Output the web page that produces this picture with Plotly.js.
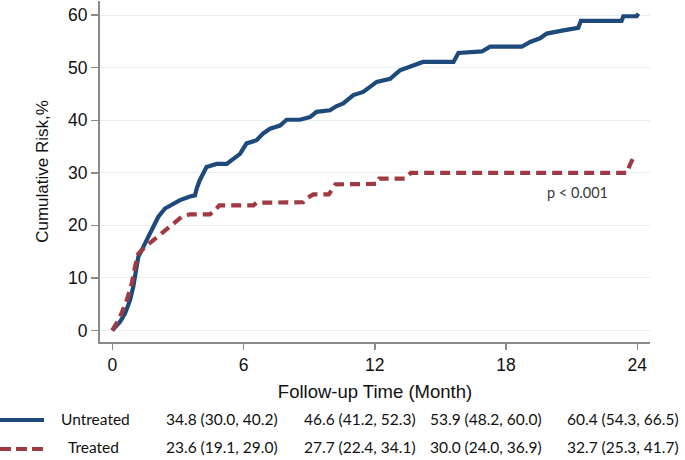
<!DOCTYPE html>
<html>
<head>
<meta charset="utf-8">
<script src="https://cdn.plot.ly/plotly-3.0.1.min.js"></script>
<style>
  html, body { margin: 0; padding: 0; background: #fff; }
  #chart { width: 685px; height: 460px; }
</style>
</head>
<body>
<div id="chart"></div>
<script>
// cumulative risk curves (corner points of the steps)
var untreatedTime = [0, 0.35, 0.58, 0.81, 0.96, 1.04, 1.19, 1.42, 1.65, 1.87, 2.1, 2.41, 2.87, 3.1, 3.55, 3.78, 3.86, 4.0, 4.31, 4.77, 5.23, 5.53, 5.84, 6.14, 6.6, 6.9, 7.21, 7.67, 7.97, 8.58, 9.04, 9.34, 9.95, 10.26, 10.56, 11.02, 11.47, 12.09, 12.7, 13.15, 13.6, 14.2, 15.6, 15.82, 16.9, 17.27, 18.72, 19.1, 19.55, 19.86, 20.62, 21.07, 21.3, 21.42, 23.28, 23.36, 23.97, 24.05];
var untreatedRisk = [0, 1.6, 3.2, 5.7, 8.3, 10.8, 14, 15.9, 17.8, 19.7, 21.6, 23.2, 24.4, 24.8, 25.5, 25.7, 27, 28.6, 31.1, 31.7, 31.7, 32.7, 33.6, 35.6, 36.2, 37.5, 38.4, 39, 40.1, 40.1, 40.6, 41.6, 41.9, 42.7, 43.2, 44.8, 45.4, 47.3, 47.9, 49.5, 50.2, 51.1, 51.1, 52.8, 53.1, 54, 54, 54.9, 55.6, 56.5, 57.1, 57.5, 57.6, 58.9, 58.9, 59.8, 59.8, 60.3];

var treatedTime = [0, 0.35, 0.66, 0.89, 1.04, 1.19, 1.5, 1.95, 2.33, 2.79, 3.17, 3.55, 4.47, 4.69, 4.9, 6.45, 6.6, 8.73, 8.9, 9.19, 9.9, 10.2, 12.09, 12.2, 13.4, 13.65, 23.55, 23.65, 23.8];
var treatedRisk = [0, 2.5, 5.7, 8.9, 12.1, 14.6, 15.9, 17.5, 18.7, 20.3, 21.6, 22.1, 22.1, 22.9, 23.8, 23.8, 24.3, 24.4, 25.2, 25.9, 25.9, 27.8, 27.9, 28.9, 28.9, 30.0, 30.0, 31.4, 32.7];

// table under the plot
var groups = ["Untreated", "Treated"];
var untreatedCI = ["34.8 (30.0, 40.2)", "46.6 (41.2, 52.3)", "53.9 (48.2, 60.0)", "60.4 (54.3, 66.5)"];
var treatedCI = ["23.6 (19.1, 29.0)", "27.7 (22.4, 34.1)", "30.0 (24.0, 36.9)", "32.7 (25.3, 41.7)"];
var xTicks = [0, 6, 12, 18, 24];
var pText = "p < 0.001";

var blue = "#1d4a7a";
var red = "#a03a42";

// plot area in px: x 100..650, y 1..342
var L = 100, W = 550, T = 1, H = 341;
function px(x) { return (x - L) / W; }
function py(y) { return (T + H - y) / H; }

var traces = [
  {x: untreatedTime, y: untreatedRisk, mode: "lines", line: {color: blue, width: 4.2}, hoverinfo: "skip"},
  {x: treatedTime, y: treatedRisk, mode: "lines", line: {color: red, width: 4.2, dash: "10px,6px"}, hoverinfo: "skip"}
];

var tblFont = {family: "Lato, sans-serif", size: 15.5, color: "#111"};
var colX = [222, 360, 486, 623];
var rowY = [419, 447];
var anns = [];
groups.forEach(function (g, i) {
  anns.push({xref: "paper", yref: "paper", x: px(i == 0 ? 95 : 93), y: py(rowY[i]), text: g,
    showarrow: false, xanchor: "center", yanchor: "middle", font: tblFont});
});
[untreatedCI, treatedCI].forEach(function (row, i) {
  row.forEach(function (t, j) {
    anns.push({xref: "paper", yref: "paper", x: px(colX[j]), y: py(rowY[i]), text: t,
      showarrow: false, xanchor: "center", yanchor: "middle", font: tblFont});
  });
});
anns.push({xref: "paper", yref: "paper", x: px(577), y: py(193), text: pText, showarrow: false,
  xanchor: "center", yanchor: "middle", font: {family: "Lato, sans-serif", size: 14.5, color: "#3a3a3a"}});

var shapes = [
  {type: "line", xref: "paper", yref: "paper", x0: px(0), x1: px(44), y0: py(420), y1: py(420),
    line: {color: blue, width: 4}},
  {type: "line", xref: "paper", yref: "paper", x0: px(0), x1: px(44), y0: py(449), y1: py(449),
    line: {color: red, width: 4, dash: "11px,5px"}}
];

var layout = {
  width: 685, height: 460,
  margin: {l: 100, r: 35, t: 1, b: 118},
  paper_bgcolor: "#fff", plot_bgcolor: "#fff",
  showlegend: false,
  font: {family: "Liberation Sans, Arial, sans-serif", size: 17, color: "#111"},
  xaxis: {
    range: [-0.56, 24.58], tickvals: xTicks, ticktext: xTicks.map(String),
    showline: true, linecolor: "#8a8a8a", linewidth: 2, mirror: false,
    ticks: "outside", ticklen: 6, tickwidth: 1.5, tickcolor: "#8a8a8a",
    showgrid: false, zeroline: false,
    tickfont: {size: 17.5},
    title: {text: "Follow-up Time (Month)", font: {size: 18.5}, standoff: 11}
  },
  yaxis: {
    range: [-2.2, 62.7], tick0: 0, dtick: 10,
    showline: true, linecolor: "#8a8a8a", linewidth: 2,
    ticks: "outside", ticklen: 7, tickwidth: 1.5, tickcolor: "#8a8a8a",
    showgrid: true, gridcolor: "#e6f0f3", gridwidth: 1, zeroline: false,
    tickfont: {size: 17.5},
    title: {text: "Cumulative Risk,%", font: {size: 17}, standoff: 15}
  },
  annotations: anns,
  shapes: shapes
};

Plotly.newPlot("chart", traces, layout, {displayModeBar: false, staticPlot: true});
</script>
</body>
</html>
